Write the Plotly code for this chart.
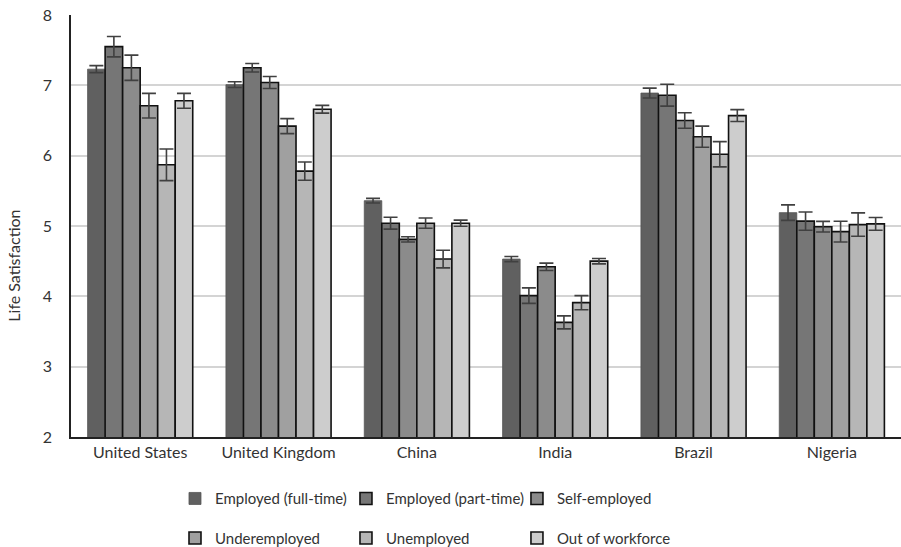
import plotly.graph_objects as go

countries = ["United States", "United Kingdom", "China", "India", "Brazil", "Nigeria"]
statuses = ["Employed (full-time)", "Employed (part-time)", "Self-employed",
            "Underemployed", "Unemployed", "Out of workforce"]

full_time = [7.23, 7.01, 5.36, 4.53, 6.89, 5.19]
part_time = [7.55, 7.25, 5.04, 4.01, 6.86, 5.07]
self_employed = [7.25, 7.04, 4.81, 4.42, 6.50, 4.99]
underemployed = [6.71, 6.42, 5.04, 3.63, 6.27, 4.92]
unemployed = [5.87, 5.78, 4.53, 3.91, 6.02, 5.02]
out_of_workforce = [6.78, 6.66, 5.04, 4.50, 6.57, 5.03]

err_full_time = [0.05, 0.04, 0.033, 0.036, 0.07, 0.11]
err_part_time = [0.145, 0.06, 0.085, 0.11, 0.155, 0.13]
err_self_employed = [0.18, 0.085, 0.038, 0.052, 0.11, 0.076]
err_underemployed = [0.175, 0.107, 0.073, 0.092, 0.15, 0.147]
err_unemployed = [0.225, 0.13, 0.125, 0.10, 0.18, 0.166]
err_out_of_workforce = [0.105, 0.055, 0.043, 0.038, 0.085, 0.09]

values = [full_time, part_time, self_employed, underemployed, unemployed, out_of_workforce]
errors = [err_full_time, err_part_time, err_self_employed, err_underemployed,
          err_unemployed, err_out_of_workforce]
colors = ["#606060", "#767676", "#8b8b8b", "#a0a0a0", "#b6b6b6", "#cdcdcd"]
y_ticks = [2, 3, 4, 5, 6, 7, 8]

FONT = "Lato, 'Open Sans', sans-serif"
legend_ids = ["legend", "legend2", "legend3", "legend", "legend2", "legend3"]

fig = go.Figure()
for i, (name, vals, errs, col) in enumerate(zip(statuses, values, errors, colors)):
    fig.add_trace(go.Bar(
        name=name, x=countries, y=vals,
        marker=dict(color=col,
                    line=dict(color="#555555" if i == 0 else "#111111",
                              width=0.8 if i == 0 else 1.6)),
        error_y=dict(type="data", array=errs, visible=True,
                     color="#404040", thickness=1.6, width=7),
        legend=legend_ids[i], legendgroup="g%d" % i,
    ))

legend_common = dict(orientation="v", xanchor="left", y=-0.1924, yanchor="middle",
                     tracegroupgap=17, font=dict(size=15, color="#333333"),
                     bgcolor="rgba(0,0,0,0)", itemclick=False)

fig.update_layout(
    width=901, height=547,
    margin=dict(l=71, r=0, t=15, b=110, autoexpand=False),
    paper_bgcolor="white", plot_bgcolor="white",
    barmode="group", bargap=0.24, bargroupgap=0,
    font=dict(family=FONT, color="#333333", size=15),
    showlegend=True,
    legend=dict(x=0.1253, **legend_common),
    legend2=dict(x=0.3313, **legend_common),
    legend3=dict(x=0.5373, **legend_common),
    xaxis=dict(showline=True, linecolor="#222222", linewidth=1.5,
               tickfont=dict(size=16, color="#333333"), ticks="",
               showgrid=False),
    yaxis=dict(range=[2, 8], tickvals=y_ticks, showline=True, linecolor="#222222",
               linewidth=1.5, showgrid=True, gridcolor="#d4d4d4", gridwidth=1.5,
               tickfont=dict(size=16, color="#333333"), ticks="",
               ticklabelstandoff=14, zeroline=False),
    annotations=[dict(text="Life Satisfaction", textangle=-90, xref="paper", yref="paper",
                      x=0, xshift=-57, xanchor="center", y=0.406, yanchor="middle",
                      showarrow=False, font=dict(size=16, color="#333333"))],
)

fig.write_html("out.html")
